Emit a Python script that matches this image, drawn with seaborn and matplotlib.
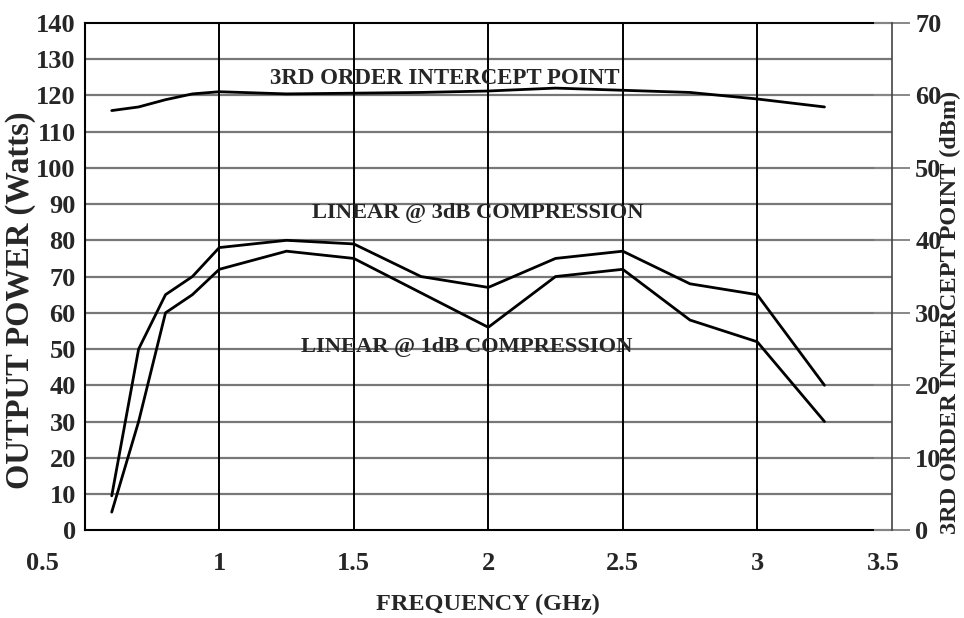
import numpy as np
import pandas as pd
import matplotlib
matplotlib.use("Agg")
import matplotlib.pyplot as plt
import matplotlib.transforms as mtransforms
import seaborn as sns

# Data
freq = [0.6, 0.7, 0.8, 0.9, 1.0, 1.25, 1.5, 1.75, 2.0, 2.25, 2.5, 2.75, 3.0, 3.25]
p_3db = [9.5, 50, 65, 70, 78, 80, 79, 70, 67, 75, 77, 68, 65, 40]
p_1db = [5, 30, 60, 65, 72, 77, 75, 65.5, 56, 70, 72, 58, 52, 30]
ip3_dbm = [57.9, 58.4, 59.4, 60.2, 60.5, 60.2, 60.3, 60.4, 60.6, 61.0, 60.7, 60.4, 59.5, 58.4]

x_ticks = [0.5, 1, 1.5, 2, 2.5, 3, 3.5]
x_labels = ["0.5", "1", "1.5", "2", "2.5", "3", "3.5"]
left_ticks = list(range(0, 141, 10))
right_ticks = list(range(0, 71, 10))

sns.set_style("white")
plt.rcParams["font.family"] = ["Liberation Serif", "DejaVu Serif"]
plt.rcParams["font.weight"] = "bold"

df = pd.DataFrame({"freq": freq, "p3": p_3db, "p1": p_1db, "ip3": ip3_dbm})

fig, ax = plt.subplots(figsize=(9.64, 6.18), dpi=100)
fig.subplots_adjust(left=0.088, right=0.925, bottom=0.142, top=0.963)

ax.set_xlim(0.5, 3.5)
ax.set_ylim(0, 140)
ax.set_yticks(left_ticks)
ax.set_xticks(x_ticks)
ax.set_xticklabels(x_labels)

# grid: gray horizontals, black verticals
for y in left_ticks[1:-1]:
    ax.axhline(y, color="#777777", lw=1.6, zorder=1)
for x in x_ticks[1:-1]:
    ax.axvline(x, color="black", lw=1.4, zorder=1)

sns.lineplot(data=df, x="freq", y="p3", ax=ax, color="black", lw=2, zorder=3)
sns.lineplot(data=df, x="freq", y="p1", ax=ax, color="black", lw=2, zorder=3)

ax2 = ax.twinx()
ax2.set_ylim(0, 70)
sns.lineplot(data=df, x="freq", y="ip3", ax=ax2, color="black", lw=2, zorder=3)
ax2.set_yticks(right_ticks)
ax2.set_ylabel("")

for a in (ax, ax2):
    for s in a.spines.values():
        s.set_visible(False)
for s in ("left", "bottom", "top"):
    ax.spines[s].set_visible(True)
    ax.spines[s].set_color("black")
    ax.spines[s].set_linewidth(1.5)
ax2.spines["right"].set_visible(True)
ax2.spines["right"].set_color("#444444")
ax2.spines["right"].set_linewidth(1.2)

ax.tick_params(axis="y", length=0, pad=6.5, labelsize=19)
ax.tick_params(axis="x", length=0, pad=15.5, labelsize=19)
ax2.tick_params(axis="y", direction="inout", length=26, width=1.4, color="#888888",
                pad=4, labelsize=19)

# end labels on the x axis sit off-centre in the original
lbls = ax.get_xticklabels()
lbls[0].set_transform(lbls[0].get_transform() + mtransforms.ScaledTranslation(-0.42, 0, fig.dpi_scale_trans))
lbls[-1].set_transform(lbls[-1].get_transform() + mtransforms.ScaledTranslation(-0.08, 0, fig.dpi_scale_trans))

ax.set_xlabel("FREQUENCY (GHz)", fontsize=17.5, fontweight="bold", labelpad=13.5)
ax.set_ylabel("OUTPUT POWER (Watts)", fontsize=23.5, fontweight="bold")
ax.yaxis.set_label_coords(-0.061, 0.453)
ax2.set_ylabel("3RD ORDER INTERCEPT POINT (dBm)", fontsize=17.5, fontweight="bold")
ax2.yaxis.set_label_coords(1.06, 0.43)

ax.text(1.84, 124.6, "3RD ORDER INTERCEPT POINT", ha="center", va="center", fontsize=16.5, fontweight="bold", zorder=5)
ax.text(1.96, 87.5, "LINEAR @ 3dB COMPRESSION", ha="center", va="center", fontsize=16.2, fontweight="bold", zorder=5)
ax.text(1.92, 50.5, "LINEAR @ 1dB COMPRESSION", ha="center", va="center", fontsize=16.2, fontweight="bold", zorder=5)

ax.set_zorder(ax2.get_zorder() - 1)
ax2.patch.set_visible(False)

fig.savefig("out.png", dpi=100)
